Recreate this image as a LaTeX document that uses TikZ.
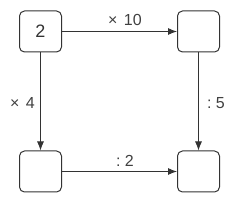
\documentclass[tikz,border=0pt]{standalone}
\usepackage{fontspec}
\setmainfont{Liberation Sans}
\usetikzlibrary{arrows.meta}
\begin{document}
\begin{tikzpicture}[x=1pt,y=-1pt,
 box/.style={draw=black!80, line width=1pt, rounded corners=5pt, minimum width=42pt, minimum height=41pt, inner sep=0pt, font=\fontsize{18}{21}\selectfont, text=black!80},
 conn/.style={draw=black!80, line width=0.9pt, -{Latex[length=9pt,width=7pt]}},
 lbl/.style={font=\fontsize{16}{19}\selectfont, text=black!75, inner sep=0pt, anchor=base}]
\useasboundingbox (0,0) rectangle (241,200);
\node[box] (a) at (40.5,31.5) {2};
\node[box] (b) at (198.5,31.5) {};
\node[box] (c) at (40.5,171.5) {};
\node[box] (d) at (198.5,171.5) {};
\draw[conn] (a) -- (b);
\draw[conn] (a) -- (c);
\draw[conn] (b) -- (d);
\draw[conn] (c) -- (d);
\node[lbl] (l1) at (125,25.5) {×\kern2pt\ 10};
\node[lbl] (l2) at (22.5,109) {×\kern2pt\ 4};
\node[lbl] (l3) at (216,109) {:\ 5};
\node[lbl] (l4) at (125,167) {:\ 2};
\end{tikzpicture}
\end{document}
